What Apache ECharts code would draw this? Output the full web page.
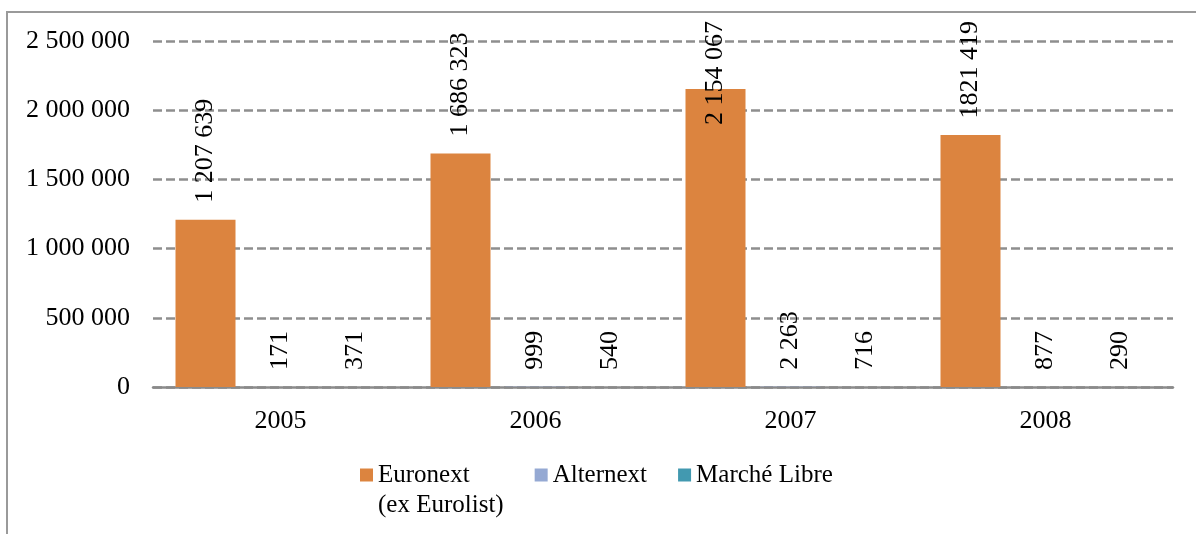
<!DOCTYPE html>
<html>
<head>
<meta charset="utf-8">
<script src="https://cdn.jsdelivr.net/npm/echarts@6/dist/echarts.min.js"></script>
<style>
html, body { margin: 0; padding: 0; background: #fff; }
#main { width: 1196px; height: 534px; }
</style>
</head>
<body>
<div id="main"></div>
<script>
// data
var years = ['2005', '2006', '2007', '2008'];
var seriesNames = ['Euronext\n(ex Eurolist)', 'Alternext', 'Marché Libre'];
var euronext = [1207639, 1686323, 2154067, 1821419];
var alternext = [171, 999, 2263, 877];
var marcheLibre = [371, 540, 716, 290];
var euronextLabels = ['1 207 639', '1 686 323', '2 154 067', '1821 419']; // as printed
var colors = ['#dc843f', '#95a9d3', '#4299b0'];

var FONT = 'Liberation Serif';
var FS = 26;
var LABEL_DIST = 17;
var TOP_LIMIT = 21;

function spaced(v) {
   return String(v).replace(/\B(?=(\d{3})+(?!\d))/g, ' ');
}

function barLabel(fmt) {
   return {
      show: true,
      position: 'top',
      rotate: 90,
      align: 'left',
      verticalAlign: 'middle',
      distance: LABEL_DIST,
      fontFamily: FONT,
      fontSize: FS,
      color: '#000',
      formatter: fmt
   };
}

var chart = echarts.init(document.getElementById('main'));
chart.setOption({
   animation: false,
   color: colors,
   textStyle: { fontFamily: FONT },
   graphic: [{
      type: 'rect',
      silent: true,
      z: -1,
      shape: { x: 7, y: 12, width: 1300, height: 600 },
      style: { fill: 'none', stroke: '#9a9a9a', lineWidth: 2 }
   }],
   grid: { left: 153, right: 23, top: 41, bottom: 147 },
   legend: {
      left: 360,
      top: 430,
      padding: 0,
      icon: 'rect',
      itemWidth: 13,
      itemHeight: 13,
      itemGap: 31,
      textStyle: { fontFamily: FONT, fontSize: 25, lineHeight: 30, color: '#000' },
      // empty first line so "Euronext" sits level with its square
      formatter: function (name) {
         return name.indexOf('\n') >= 0 ? '\n' + name : name;
      },
      data: seriesNames
   },
   xAxis: {
      type: 'category',
      data: years,
      axisLine: { lineStyle: { color: '#8a8a8a', width: 2.5 } },
      axisTick: { show: false },
      axisLabel: { margin: 21, fontFamily: FONT, fontSize: FS, color: '#000' }
   },
   yAxis: {
      type: 'value',
      min: 0,
      max: 2500000,
      interval: 500000,
      axisLine: { show: false },
      axisTick: { show: false },
      axisLabel: { margin: 23, fontFamily: FONT, fontSize: FS, color: '#000', formatter: spaced },
      splitLine: { lineStyle: { color: '#8e8e8e', width: 2.5, type: [9, 4] } }
   },
   series: [
      {
         name: seriesNames[0], type: 'bar', data: euronext,
         barWidth: 60, barGap: '25%',
         label: barLabel(function (p) { return euronextLabels[p.dataIndex]; })
      },
      {
         name: seriesNames[1], type: 'bar', data: alternext,
         barWidth: 60, barGap: '25%',
         label: barLabel(function (p) { return spaced(p.value); })
      },
      {
         name: seriesNames[2], type: 'bar', data: marcheLibre,
         barWidth: 60, barGap: '25%',
         label: barLabel(function (p) { return spaced(p.value); })
      }
   ]
});

// labels that would run over the top are pushed down, like in the original.
// position is relative to the bar's own box; the text starts at that point and runs up
var ctx = document.createElement('canvas').getContext('2d');
ctx.font = FS + 'px "' + FONT + '"';
function fitLabels(values, texts) {
   return values.map(function (v, i) {
      var barTop = chart.convertToPixel({ yAxisIndex: 0 }, v);
      var w = ctx.measureText(texts[i]).width;
      if (barTop - LABEL_DIST - w < TOP_LIMIT) {
         return { value: v, label: { position: ['50%', TOP_LIMIT + w - barTop] } };
      }
      return v;
   });
}
chart.setOption({
   series: [
      { data: fitLabels(euronext, euronextLabels) },
      { data: fitLabels(alternext, alternext.map(spaced)) },
      { data: fitLabels(marcheLibre, marcheLibre.map(spaced)) }
   ]
});
</script>
</body>
</html>
